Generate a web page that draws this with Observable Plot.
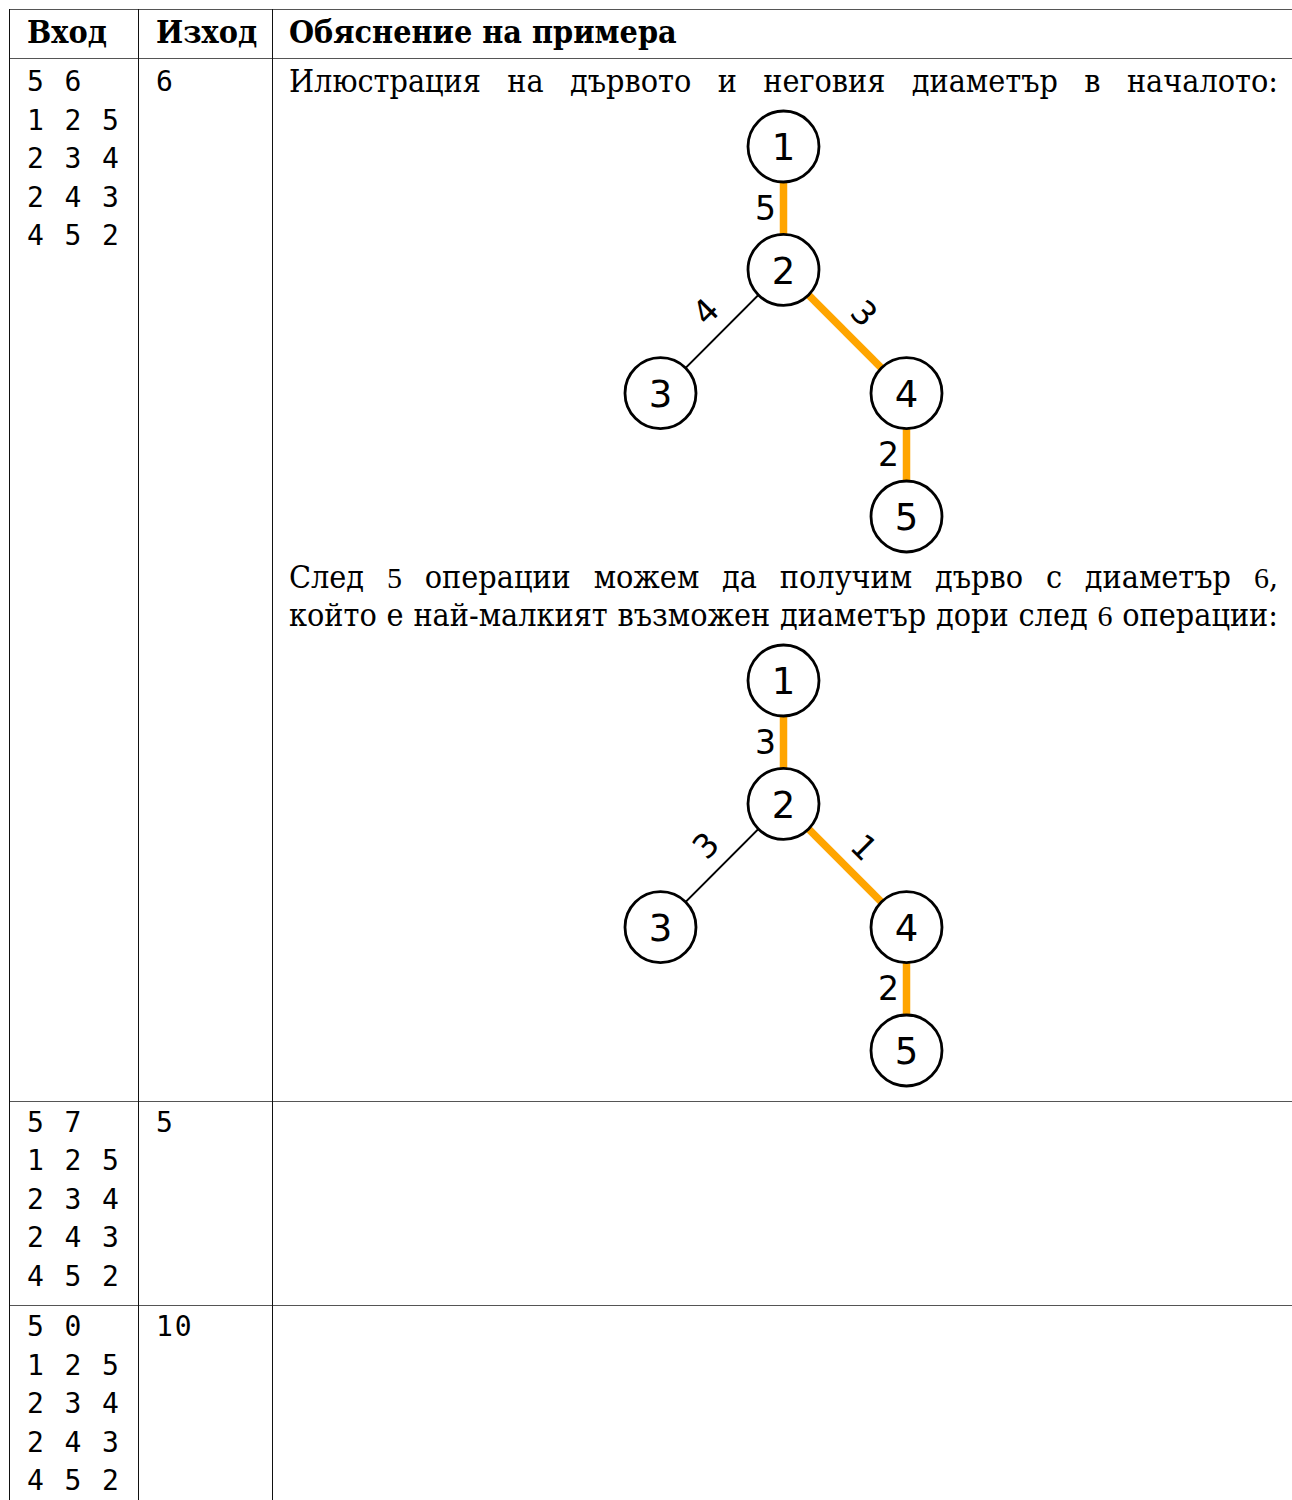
<!DOCTYPE html>
<html lang="bg"><head><meta charset="utf-8">
<script src="https://cdn.jsdelivr.net/npm/d3@7"></script>
<script src="https://cdn.jsdelivr.net/npm/@observablehq/plot@0.6"></script>
<style>
html,body{margin:0;padding:0;background:#fff;}
#page{position:relative;width:1292px;height:1500px;overflow:hidden;background:#fff;}
.hl{position:absolute;height:1px;background:#555;}
.vl{position:absolute;width:1px;background:#111;}
.t{position:absolute;white-space:pre;color:#000;}
.serif{font-family:"DejaVu Serif Condensed","DejaVu Serif",serif;font-stretch:condensed;}
.head{font-weight:bold;font-family:"DejaVu Serif Condensed","DejaVu Serif",serif;font-stretch:condensed;}
.mono{font-family:"DejaVu Sans Mono",monospace;letter-spacing:1.9px;}
.just{text-align:justify;text-align-last:justify;white-space:normal;}
.num{font-family:"Liberation Serif",serif;font-stretch:normal;font-size:30px;}
.tree{position:absolute;}
</style></head><body><div id="page"></div>
<script>
// ---------- data ----------
const headers = ["Вход", "Изход", "Обяснение на примера"];
const inputs = [
  ["5 6", "1 2 5", "2 3 4", "2 4 3", "4 5 2"],
  ["5 7", "1 2 5", "2 3 4", "2 4 3", "4 5 2"],
  ["5 0", "1 2 5", "2 3 4", "2 4 3", "4 5 2"]
];
const outputs = ["6", "5", "10"];
const introLine = ["Илюстрация на дървото и неговия диаметър в началото:"];
const afterLine1 = ["След ", "5", " операции можем да получим дърво с диаметър ", "6", ","];
const afterLine2 = ["който е най-малкият възможен диаметър дори след ", "6", " операции:"];
const treeNodes = ["1", "2", "3", "4", "5"];
const treeParents = [null, "1", "2", "2", "4"];
const weightsBefore = [5, 4, 3, 2];   // edges 1-2, 2-3, 2-4, 4-5
const weightsAfter  = [3, 3, 1, 2];
const diameterEdges = ["1-2", "2-4", "4-5"];

// ---------- layout constants ----------
const page = document.getElementById("page");
const colX = [9, 138, 272];
const rowY = [9, 58, 1101, 1305];
const textX = [27, 156, 289];
const firstBase = [92, 1132.7, 1337];

function line(cls, left, top, w, h) {
  const d = document.createElement("div");
  d.className = cls;
  d.style.left = left + "px"; d.style.top = top + "px";
  if (w != null) d.style.width = w + "px";
  if (h != null) d.style.height = h + "px";
  page.appendChild(d);
}
function addText(cls, parts, left, baseline, size, opts = {}) {
  const L = opts.lh || size;
  const d = document.createElement("div");
  d.className = "t " + cls;
  d.style.fontSize = size + "px";
  d.style.lineHeight = L + "px";
  d.style.left = left + "px";
  d.style.top = (baseline - (L / 2 + 0.346 * size)) + "px";
  if (opts.width) d.style.width = opts.width + "px";
  parts.forEach((p, i) => {
    const s = document.createElement("span");
    if (opts.numIdx && opts.numIdx.includes(i)) s.className = "num";
    s.textContent = p;
    d.appendChild(s);
  });
  page.appendChild(d);
  return d;
}

// table lines
line("hl", colX[0], rowY[0], 1292 - colX[0]);
rowY.slice(1).forEach(y => line("hl", colX[0], y, 1292 - colX[0]));
colX.forEach(x => line("vl", x, rowY[0], null, 1500 - rowY[0]));

// header
headers.forEach((h, i) => addText("head", [h], textX[i], 43, 32));

// rows
inputs.forEach((rows, r) => {
  addText("mono", [rows.join("\n")], textX[0], firstBase[r], 28, {lh: 38.5});
  addText("mono", [outputs[r]], textX[1], firstBase[r], 28, {lh: 38.5});
});

// explanation paragraph lines
const W = 1278 - 289;
addText("serif just", introLine, textX[2], 92, 32, {width: W});
addText("serif just", afterLine1, textX[2], 588.5, 32, {width: W, numIdx: [1, 3]});
const l2 = addText("serif just", afterLine2, textX[2], 626.5, 32, {width: W, numIdx: [1]});
// keep the closing line on one row within the column
if (l2.offsetHeight > 40) { l2.style.whiteSpace = "nowrap"; l2.style.letterSpacing = "-0.3px"; }

// ---------- trees ----------
function buildTree(weights) {
  const root = d3.stratify().id(d => d.id).parentId(d => d.parent)(
    treeNodes.map((id, i) => ({id, parent: treeParents[i]}))
  );
  d3.tree().nodeSize([1, 1])(root);
  const nodes = root.descendants().map(n => ({id: n.id, x: n.x, y: n.depth}));
  const byId = new Map(nodes.map(n => [n.id, n]));
  const edges = root.descendants().filter(n => n.parent).map(n => {
    const a = byId.get(n.parent.id), b = byId.get(n.id);
    return {key: a.id + "-" + b.id, x1: a.x, y1: a.y, x2: b.x, y2: b.y,
            mx: (a.x + b.x) / 2, my: (a.y + b.y) / 2, dir: Math.sign(b.x - a.x)};
  });
  edges.forEach((e, i) => { e.w = weights[i]; e.diam = diameterEdges.includes(e.key); });
  return {nodes, edges};
}

function drawTree(weights, top) {
  const {nodes, edges} = buildTree(weights);
  const labelFont = {fontSize: 33, fontFamily: "DejaVu Sans", fill: "black"};
  const chart = Plot.plot({
    width: 400, height: 460, margin: 0,
    style: {background: "transparent", overflow: "visible"},
    x: {domain: [-0.5, 0.5], range: [60, 306], axis: null},
    y: {domain: [0, 3], range: [46, 416], axis: null},
    marks: [
      Plot.link(edges.filter(e => !e.diam), {x1: "x1", y1: "y1", x2: "x2", y2: "y2", stroke: "black", strokeWidth: 2}),
      Plot.link(edges.filter(e => e.diam), {x1: "x1", y1: "y1", x2: "x2", y2: "y2", stroke: "#FFA500", strokeWidth: 7.5}),
      Plot.dot(nodes, {x: "x", y: "y", r: 35.5, fill: "white", stroke: "black", strokeWidth: 2.8}),
      Plot.text(nodes, {x: "x", y: "y", text: "id", fontSize: 37, fontFamily: "DejaVu Sans", fill: "black", dy: 2}),
      Plot.text(edges.filter(e => e.dir === 0), {x: "mx", y: "my", text: "w", dx: -18, dy: 1, ...labelFont}),
      Plot.text(edges.filter(e => e.dir < 0), {x: "mx", y: "my", text: "w", rotate: -45, dx: -15.5, dy: -19.5, ...labelFont}),
      Plot.text(edges.filter(e => e.dir > 0), {x: "mx", y: "my", text: "w", rotate: 45, dx: 18.5, dy: -17.5, ...labelFont})
    ]
  });
  chart.classList.add("tree");
  chart.style.left = "600px";
  chart.style.top = top + "px";
  page.appendChild(chart);
}
drawTree(weightsBefore, 100);
drawTree(weightsAfter, 634);
</script></body></html>
